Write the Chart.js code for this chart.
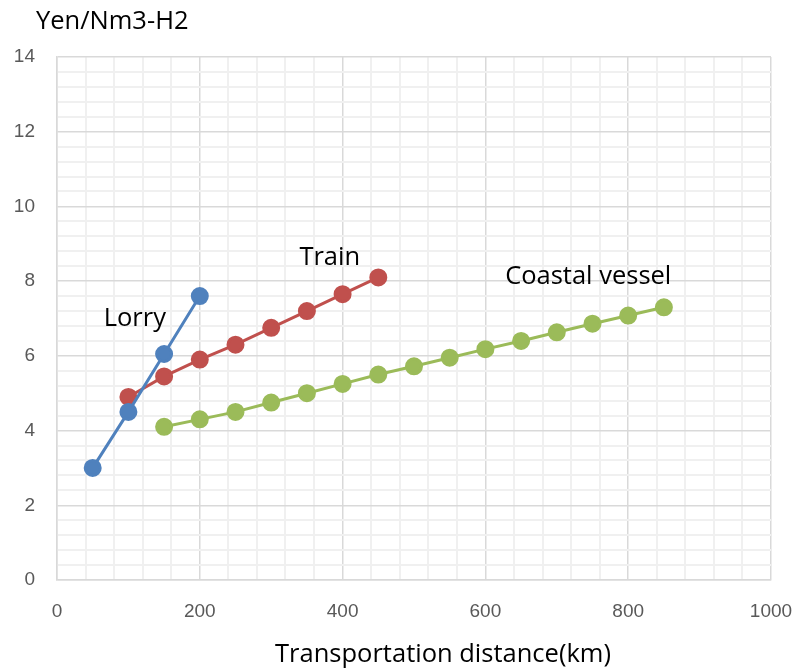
<!DOCTYPE html>
<html>
<head>
<meta charset="utf-8">
<script src="https://cdn.jsdelivr.net/npm/chart.js@4.4.1/dist/chart.umd.min.js"></script>
<style>
  html, body { margin: 0; padding: 0; background: #ffffff; }
  #wrap { width: 798px; height: 670px; }
</style>
</head>
<body>
<div id="wrap"><canvas id="c" width="798" height="670"></canvas></div>
<script>
// Transport cost of hydrogen by distance
const lorryKm   = [50, 100, 150, 200];
const lorryCost = [3.0, 4.5, 6.05, 7.6];

const trainKm   = [100, 150, 200, 250, 300, 350, 400, 450];
const trainCost = [4.9, 5.45, 5.9, 6.3, 6.75, 7.2, 7.65, 8.1];

const vesselKm   = [150, 200, 250, 300, 350, 400, 450, 500, 550, 600, 650, 700, 750, 800, 850];
const vesselCost = [4.1, 4.3, 4.5, 4.75, 5.0, 5.25, 5.5, 5.72, 5.95, 6.18, 6.4, 6.63, 6.86, 7.08, 7.3];

const seriesNames = ['Lorry', 'Train', 'Coastal vessel'];
// where each series name is written, in data units
const nameAnchors = [[109, 7.0], [382, 8.62], [744, 8.11]];

const yTitle = 'Yen/Nm3-H2';
const xTitle = 'Transportation distance(km)';

const xMajor = 200, xMinor = 40;
const yMajor = 2,   yMinor = 0.4;

const FONT = '"Liberation Sans", Arial, sans-serif';
const LABEL_FONT = '"Open Sans", "Liberation Sans", sans-serif';

function pts(xs, ys) { return xs.map((x, i) => ({ x: x, y: ys[i] })); }
function isMajor(v, step) { const r = v / step; return Math.abs(r - Math.round(r)) < 1e-6; }

function series(label, data, color) {
  return {
    label: label, data: data,
    borderColor: color, backgroundColor: color,
    pointBackgroundColor: color, pointBorderColor: color,
    borderWidth: 3, pointRadius: 7.5, pointHoverRadius: 7.5,
    showLine: true, tension: 0
  };
}

const textPlugin = {
  id: 'texts',
  afterDraw(chart) {
    const ctx = chart.ctx, xs = chart.scales.x, ys = chart.scales.y;
    ctx.save();
    ctx.fillStyle = '#000000';
    ctx.font = '25.5px ' + LABEL_FONT;
    ctx.textBaseline = 'middle';
    ctx.textAlign = 'left';
    ctx.fillText(yTitle, 36, 22);
    ctx.textAlign = 'center';
    ctx.fillText(xTitle, 443, 655);
    seriesNames.forEach((n, i) => {
      ctx.fillText(n, xs.getPixelForValue(nameAnchors[i][0]), ys.getPixelForValue(nameAnchors[i][1]));
    });
    ctx.restore();
  }
};

new Chart(document.getElementById('c'), {
  type: 'scatter',
  data: {
    datasets: [
      series(seriesNames[0], pts(lorryKm, lorryCost), '#4f81bd'),
      series(seriesNames[1], pts(trainKm, trainCost), '#c0504d'),
      series(seriesNames[2], pts(vesselKm, vesselCost), '#9bbb59')
    ]
  },
  options: {
    responsive: false,
    animation: false,
    layout: { padding: { top: 57, right: 27, left: 0, bottom: 0 } },
    plugins: { legend: { display: false }, tooltip: { enabled: false } },
    scales: {
      x: {
        type: 'linear', min: 0, max: 1000,
        afterFit(s) { s.height = 90; s.paddingLeft = 0; s.paddingRight = 0; },
        grid: {
          drawTicks: false,
          color: c => isMajor(c.tick.value, xMajor) ? '#d9d9d9' : '#f0f0f0',
          lineWidth: c => isMajor(c.tick.value, xMajor) ? 1.5 : 2
        },
        border: { color: '#d9d9d9', width: 1.5 },
        ticks: {
          stepSize: xMinor, autoSkip: false, maxRotation: 0, padding: 20,
          color: '#595959', font: { family: FONT, size: 19 },
          callback: v => isMajor(v, xMajor) ? String(Math.round(v)) : ''
        }
      },
      y: {
        type: 'linear', min: 0, max: 14,
        afterFit(s) { s.width = 57; s.paddingTop = 0; s.paddingBottom = 0; },
        grid: {
          drawTicks: false,
          color: c => isMajor(c.tick.value, yMajor) ? '#d9d9d9' : '#f0f0f0',
          lineWidth: c => isMajor(c.tick.value, yMajor) ? 1.5 : 2
        },
        border: { color: '#d9d9d9', width: 1.5 },
        ticks: {
          stepSize: yMinor, autoSkip: false, padding: 22,
          color: '#595959', font: { family: FONT, size: 19 },
          callback: v => isMajor(v, yMajor) ? String(Math.round(v)) : ''
        }
      }
    }
  },
  plugins: [textPlugin]
});
</script>
</body>
</html>
